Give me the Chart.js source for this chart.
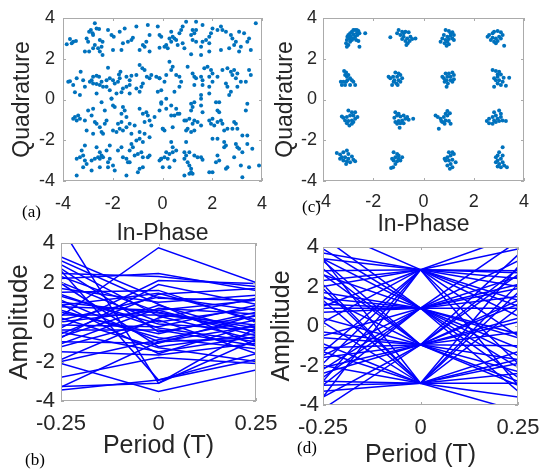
<!DOCTYPE html>
<html>
<head>
<meta charset="utf-8">
<script src="https://cdn.jsdelivr.net/npm/chart.js@4"></script>
<style>
  body { margin: 0; background: #fff; }
  #wrap { position: relative; width: 542px; height: 470px; background: #fff; overflow: hidden; }
  canvas { position: absolute; }
  .tag { position: absolute; font: 17px 'Liberation Serif', 'Times New Roman', serif; line-height: 18px; color: #000; }
</style>
</head>
<body>
<div id="wrap">
  <canvas id="pa" width="272" height="250" style="left:0;top:0"></canvas>
  <canvas id="pc" width="270" height="250" style="left:272px;top:0"></canvas>
  <canvas id="pb" width="290" height="240" style="left:0;top:230px"></canvas>
  <canvas id="pd" width="272" height="240" style="left:270px;top:230px"></canvas>
  <div class="tag" style="left:22px;top:203px">(a)</div>
  <div class="tag" style="left:302px;top:198px">(c)</div>
  <div class="tag" style="left:25px;top:451px">(b)</div>
  <div class="tag" style="left:297px;top:439px">(d)</div>
</div>
<script>
// tick values
const ticksIQ = [-4, -2, 0, 2, 4];
const ticksAmp = [-4, -2, 0, 2, 4];
const ticksPeriod = [-0.25, 0, 0.25];
const tickLabelsPeriod = ['-0.25', '0', '0.25'];

// (a) received constellation before equalisation, [in-phase, quadrature]
const pointsA = [
  [-2.72,3.74],[-2.65,3.49],[-2.55,3.46],[-2.88,3.41],[-2.95,3.33],[-2.19,3.41],[-2.05,3.17],[-1.96,3.08],
  [-1.72,3.33],[-1.52,3.49],[-1.05,3.58],[-0.59,3.66],[-0.19,3.58],[-0.52,3.17],[-0.05,3.08],[-0.65,2.84],
  [-0.79,2.68],[-0.72,2.59],[-1.25,2.92],[-1.39,2.84],[-1.19,3.03],[-1.59,2.76],[-1.65,2.43],[-1.99,2.43],
  [-2.52,2.92],[-2.41,2.84],[-2.45,2.59],[-2.59,2.51],[-2.72,2.68],[-2.79,2.51],[-3.05,3.0],[-2.99,2.84],
  [-3.12,2.35],[-2.95,2.35],[-3.72,2.97],[-3.59,2.84],[-3.48,2.87],[-3.85,2.71],[-3.65,2.76],[-2.52,2.35],
  [-2.41,2.18],[-0.92,2.43],[-0.52,2.35],[-0.12,2.54],[-2.79,3.17],[-2.81,3.25],
  [-2.19,1.56],[-3.29,1.36],[-3.45,1.04],[-3.72,0.9],[-3.79,0.87],[-3.59,0.71],[-3.19,0.95],[-3.12,0.63],
  [-3.52,0.35],[-3.32,0.22],[-2.85,0.95],[-2.79,1.12],[-2.65,1.17],[-2.55,1.12],[-2.92,0.87],[-2.79,0.79],
  [-2.65,0.76],[-2.52,0.71],[-2.45,0.87],[-2.25,0.95],[-2.12,1.04],[-1.99,0.95],[-1.92,0.79],[-1.79,0.87],
  [-1.72,1.04],[-1.69,1.36],[-1.75,1.23],[-1.45,1.12],[-1.32,0.95],[-1.25,1.17],[-1.05,1.2],[-0.92,1.69],
  [-0.81,1.53],[-0.72,1.45],[-0.63,1.12],[-0.52,1.04],[-0.45,1.2],[-0.25,1.12],[-0.12,1.04],[-0.79,0.79],
  [-0.85,0.63],[-1.05,0.54],[-1.32,0.71],[-1.45,0.63],[-1.59,0.54],[-2.25,0.63],[-2.12,0.46],[-2.05,0.05],
  [-1.85,0.3],[-1.65,0.35],[-1.32,0.3],[-0.92,0.38],[-0.19,0.38],[-2.65,0.3],[-2.39,0.63],
  [0.95,3.82],[1.35,3.82],[0.81,3.58],[0.75,3.41],[0.68,3.25],[0.35,3.33],[0.41,3.08],[0.28,3.0],
  [0.48,3.0],[0.55,2.92],[0.35,2.84],[0.15,2.68],[0.08,2.59],[0.21,2.51],[0.61,2.68],[0.81,2.76],
  [0.88,2.51],[1.21,3.41],[1.28,3.25],[1.35,3.41],[1.15,3.17],[1.21,2.92],[1.35,2.84],[1.61,3.66],
  [2.01,3.49],[1.95,3.25],[1.88,3.08],[1.75,2.92],[1.88,2.76],[2.21,3.41],[2.41,3.41],[2.35,3.58],
  [2.55,3.33],[2.75,3.17],[2.81,3.0],[2.95,2.84],[2.88,2.68],[3.08,3.33],[3.28,3.25],[3.48,3.0],
  [3.41,2.84],[3.15,2.59],[3.08,2.35],[3.55,2.43],[3.75,3.74],[1.88,2.35],[1.55,2.18],[1.15,2.22],
  [2.68,2.51],[2.35,2.43],[-0.12,3.17],[1.55,2.59],[1.61,2.84],
  [0.28,1.85],[0.41,1.61],[0.35,1.45],[0.15,1.2],[0.55,1.2],[0.68,1.12],[0.75,0.87],[0.08,0.87],
  [-0.12,1.04],[0.68,0.63],[0.48,0.38],[1.01,1.61],[1.21,1.28],[1.28,1.12],[1.35,1.04],[1.55,1.12],
  [1.61,0.95],[1.61,0.71],[1.28,0.71],[1.55,0.22],[1.68,1.53],[1.81,1.61],[1.95,1.45],[2.01,1.28],
  [1.88,1.12],[2.01,0.87],[2.21,1.12],[2.41,1.45],[2.61,1.53],[2.75,1.36],[2.88,1.45],[3.01,1.28],
  [2.81,1.2],[2.95,1.04],[3.15,0.87],[3.35,0.87],[3.55,1.2],[3.48,1.45],[2.55,0.79],[2.61,0.63],
  [2.75,0.38],[2.68,0.22],[3.01,0.63],[1.88,0.63],[1.88,0.3],[-0.05,0.46],
  [-2.05,0.04],[-1.99,-0.29],[-1.92,-0.37],[-2.45,-0.13],[-2.79,-0.45],[-2.99,-0.54],[-2.85,-0.78],[-3.39,-0.78],
  [-3.52,-0.86],[-3.45,-1.03],[-3.59,-0.95],[-3.32,-0.95],[-3.12,-1.03],[-3.05,-1.52],[-2.72,-1.11],[-2.65,-1.19],
  [-2.79,-1.68],[-2.52,-1.36],[-2.45,-1.6],[-2.39,-1.68],[-2.32,-0.54],[-1.59,-0.37],[-1.52,-0.54],[-1.65,-0.7],
  [-1.65,-1.11],[-1.79,-1.19],[-1.99,-1.52],[-1.85,-1.6],[-1.72,-1.44],[-1.59,-1.52],[-1.45,-1.36],[-1.32,-1.19],
  [-1.12,-1.27],[-0.92,-0.45],[-0.79,-0.7],[-0.65,-0.62],[-0.59,-0.78],[-0.72,-1.11],[-0.52,-1.03],[-0.45,-1.27],
  [-0.32,-0.86],[-0.12,-0.54],[-0.05,-0.21],[0.01,-1.44],[-1.45,-0.86],[-1.25,-1.68],[-0.92,-1.6],[-0.72,-1.68],
  [-2.32,-1.19],[-2.25,-1.03],
  [-3.12,-2.26],[-3.25,-2.5],[-3.19,-2.75],[-3.32,-2.83],[-3.45,-2.91],[-3.12,-2.99],[-3.05,-3.16],[-2.85,-2.99],
  [-2.72,-2.91],[-2.65,-2.34],[-2.52,-2.59],[-2.45,-2.75],[-2.39,-2.83],[-2.59,-2.83],[-2.52,-2.91],[-2.25,-2.5],
  [-2.12,-2.26],[-2.12,-2.91],[-2.19,-3.08],[-1.99,-3.24],[-1.92,-3.49],[-2.52,-3.32],[-2.85,-3.49],[-3.19,-3.32],
  [-3.45,-3.73],[-1.59,-2.83],[-1.45,-2.91],[-1.39,-3.08],[-1.32,-2.5],[-1.25,-2.18],[-1.19,-2.34],[-1.05,-2.01],
  [-0.92,-1.93],[-0.79,-2.09],[-0.52,-1.85],[-1.12,-2.75],[-0.99,-2.67],[-0.85,-2.59],[-0.79,-2.83],[-0.59,-2.83],
  [-0.52,-2.75],[-0.92,-3.4],[-0.99,-3.57],[-0.79,-3.32],[-1.45,-3.73],[-1.32,-3.08],[-0.12,-2.99],[-0.05,-2.91],
  [-1.79,-2.5],[-1.65,-2.34],[-2.19,-3.32],
  [-0.05,-0.13],[0.15,0.04],[0.15,-0.45],[0.35,-0.29],[0.55,-0.45],[0.61,-0.7],[0.48,-0.78],[0.68,-0.7],
  [0.35,-0.78],[1.15,-0.21],[1.28,-0.13],[1.21,-0.37],[1.15,-0.54],[1.55,-0.29],[1.61,-0.62],[0.88,-1.03],
  [0.95,-1.03],[1.08,-0.95],[1.21,-1.19],[1.28,-1.03],[1.41,-1.11],[1.55,-1.27],[1.01,-1.44],[0.95,-1.52],
  [1.15,-1.6],[1.28,-1.52],[0.41,-1.36],[0.01,-1.44],[0.08,-1.52],[2.15,-0.13],[2.28,-0.13],[2.28,-0.62],
  [2.21,-0.54],[2.01,-0.95],[1.88,-1.03],[1.95,-1.19],[2.08,-1.27],[2.21,-1.11],[2.35,-1.03],[2.41,-1.19],
  [2.48,-1.52],[2.61,-1.44],[2.88,-1.11],[2.95,-1.19],[2.81,-1.44],[3.01,-1.44],[3.35,-0.54],[3.41,-0.21],
  [3.21,-1.77],[3.41,-1.77],[1.55,0.04],
  [0.35,-2.09],[0.41,-2.34],[0.55,-2.5],[0.41,-2.59],[0.28,-2.67],[0.15,-2.59],[0.08,-2.83],[0.21,-2.91],
  [0.48,-2.99],[-0.05,-2.91],[0.95,-2.09],[0.88,-2.59],[0.95,-2.75],[1.08,-2.59],[0.88,-2.91],[1.01,-3.08],
  [1.28,-2.75],[1.41,-2.83],[1.55,-2.83],[1.61,-2.96],[1.08,-3.24],[1.15,-3.4],[1.15,-3.57],[1.08,-3.65],
  [0.88,-3.73],[1.21,-3.65],[0.01,-3.32],[0.28,-3.32],[2.01,-1.93],[2.21,-1.93],[2.48,-2.09],[2.55,-2.26],
  [2.48,-2.34],[2.21,-2.75],[2.28,-2.99],[2.15,-3.08],[2.01,-3.57],[1.88,-3.57],[2.55,-3.4],[2.61,-3.32],
  [2.95,-2.18],[3.01,-2.34],[3.08,-2.42],[3.21,-2.59],[3.41,-2.18],[3.61,-2.42],[2.88,-2.83],[3.15,-3.24],
  [3.21,-3.81],[3.48,-3.32],[3.88,-3.24]
];

// (c) constellation after equalisation, [in-phase, quadrature]
const pointsC = [
  [-3.05,2.59],[-3.08,2.76],[-3.05,2.92],[-3.03,3.08],[-2.99,3.17],[-2.92,3.25],[-2.85,3.33],[-2.79,3.41],
  [-2.72,3.41],[-2.65,3.41],[-2.59,3.36],[-2.55,3.25],[-2.63,3.17],[-2.72,3.08],[-2.79,3.0],[-2.85,2.92],
  [-2.92,2.84],[-2.95,3.0],[-2.89,3.08],[-2.68,2.92],[-2.59,2.87],[-2.55,2.59],[-2.32,3.25],[-2.99,2.68],
  [-2.79,3.2],[-2.65,3.25],
  [-0.99,3.41],[-0.85,3.33],[-0.72,3.33],[-0.59,3.3],[-0.92,3.17],[-0.79,3.08],[-0.65,3.0],[-0.52,3.08],
  [-0.45,2.97],[-0.32,3.0],[-0.85,2.97],[-0.72,2.87],[-0.63,2.76],[-0.68,2.68],[-1.32,3.05],[-1.05,3.25],
  [-0.55,2.87],[-0.79,3.25],
  [0.88,3.41],[1.01,3.36],[1.15,3.3],[1.21,3.17],[1.08,3.13],[0.95,3.08],[0.81,3.17],[0.75,3.0],
  [0.88,2.92],[1.01,2.97],[1.15,3.0],[0.95,2.84],[0.84,2.76],[1.01,2.71],[0.92,2.64],[0.68,2.84],
  [1.08,3.25],[1.21,2.92],
  [2.61,3.17],[2.75,3.25],[2.81,3.33],[2.95,3.36],[3.08,3.3],[3.15,3.17],[3.01,3.08],[2.88,3.0],
  [2.75,3.03],[2.68,2.92],[2.81,2.84],[2.95,2.87],[2.88,2.76],[3.21,2.64],[3.08,3.0],[2.55,3.08],
  [-3.16,1.4],[-3.08,1.33],[-3.12,1.2],[-3.05,1.12],[-2.99,1.2],[-2.92,1.04],[-2.85,0.95],[-2.79,0.87],
  [-2.72,0.71],[-2.92,0.71],[-3.12,0.71],[-3.19,0.87],[-3.25,0.71],[-3.29,0.87],[-3.03,0.95],[-3.08,0.87],
  [-1.12,1.33],[-0.99,1.28],[-0.92,1.2],[-1.05,1.12],[-1.21,1.12],[-1.39,1.12],[-1.32,1.04],[-1.16,0.95],
  [-0.99,0.95],[-0.85,1.04],[-0.92,0.87],[-1.08,0.79],[-1.25,0.71],[-1.19,0.87],[-1.03,0.71],
  [0.88,1.28],[1.01,1.28],[1.15,1.33],[1.21,1.2],[1.08,1.12],[0.95,1.12],[0.81,1.04],[0.75,1.12],
  [0.92,0.95],[1.08,0.95],[1.21,1.0],[0.97,0.79],[0.92,0.63],[0.84,0.87],[1.15,0.87],
  [2.75,1.45],[2.88,1.4],[3.01,1.36],[3.08,1.23],[2.95,1.12],[2.81,1.04],[2.88,0.95],[3.01,0.95],
  [3.15,0.87],[2.95,0.79],[3.08,0.71],[3.28,0.67],[3.41,1.07],[2.81,0.63],[2.95,1.23],[3.19,1.07],
  [-2.99,-0.54],[-2.85,-0.62],[-2.72,-0.62],[-2.79,-0.78],[-2.92,-0.78],[-3.05,-0.86],[-3.19,-0.9],[-3.25,-0.83],
  [-3.12,-1.03],[-2.99,-1.06],[-2.85,-1.03],[-2.72,-0.95],[-2.63,-0.86],[-2.85,-1.19],[-2.95,-1.27],[-3.05,-1.16],
  [-2.79,-1.11],
  [-1.12,-0.62],[-0.99,-0.7],[-1.05,-0.78],[-0.92,-0.83],[-0.79,-0.78],[-0.65,-0.86],[-0.72,-0.95],[-0.59,-0.99],
  [-0.85,-1.03],[-0.99,-1.06],[-1.12,-1.11],[-1.05,-1.19],[-0.92,-1.16],[-0.79,-1.16],[-0.41,-0.95],[-0.95,-1.39],
  [-1.16,-0.9],
  [0.48,-0.78],[0.57,-0.86],[0.68,-0.95],[0.81,-0.86],[0.88,-0.7],[0.95,-0.57],[1.05,-0.67],[0.95,-0.78],
  [0.88,-1.03],[1.01,-1.06],[0.75,-1.11],[0.84,-1.19],[1.08,-1.19],[0.61,-1.44],[0.71,-1.06],
  [3.01,-0.54],[3.08,-0.7],[2.81,-0.62],[2.88,-0.78],[2.75,-0.86],[2.61,-0.95],[2.52,-1.06],[2.61,-1.16],
  [2.75,-1.19],[2.88,-1.11],[3.01,-1.06],[3.15,-1.03],[3.28,-1.06],[3.08,-0.86],[2.95,-0.95],[2.81,-1.03],
  [-3.45,-2.63],[-3.32,-2.7],[-3.19,-2.59],[-3.05,-2.5],[-2.99,-2.67],[-3.12,-2.83],[-3.25,-2.83],[-3.19,-2.99],
  [-3.05,-3.03],[-2.92,-3.08],[-2.79,-2.96],[-2.72,-3.03],[-2.99,-2.91],[-2.85,-2.8],[-3.08,-3.16],[-3.32,-2.91],
  [-1.19,-2.59],[-1.05,-2.67],[-0.99,-2.75],[-0.85,-2.83],[-1.12,-2.83],[-1.25,-2.91],[-1.19,-2.99],[-1.05,-3.03],
  [-0.92,-2.99],[-1.12,-3.16],[-1.21,-3.32],[-1.29,-3.36],[-0.99,-2.91],
  [1.01,-2.59],[1.15,-2.59],[1.21,-2.67],[1.08,-2.75],[0.95,-2.83],[0.88,-2.99],[1.01,-2.99],[1.15,-2.96],
  [1.28,-3.08],[1.08,-3.16],[0.95,-3.24],[1.05,-3.4],[1.15,-3.32],[0.84,-2.91],
  [3.15,-2.34],[3.01,-2.59],[2.95,-2.75],[2.88,-2.83],[2.95,-2.99],[3.08,-2.91],[3.15,-3.08],[3.01,-3.16],
  [2.95,-3.29],[3.08,-3.32],[3.21,-3.24],[3.32,-3.32],[2.88,-3.08],[3.15,-2.75]
];

// (b) eye traces before equalisation, amplitude at t = -0.25, 0, 0.25
const eyeB = [
  [0.3,3.76,2.0],[4.8,-3.1,-0.9],[3.1,0.9,-1.2],[2.7,-0.5,0.3],[2.45,2.3,1.8],[2.2,2.45,1.6],
  [1.95,-1.25,-0.6],[1.7,1.0,1.35],[1.3,-0.1,-0.4],[0.85,1.45,0.1],[0.77,0.6,1.1],[0.6,-0.8,-1.35],
  [0.35,0.35,-0.15],[0.1,1.27,0.6],[-0.15,-0.24,0.85],[-0.3,2.1,1.95],[-0.5,-1.5,-0.75],[-0.75,0.85,-0.55],
  [-1.0,-1.08,0.35],[-1.25,0.1,-1.6],[-1.5,-1.67,-1.08],[-2.1,-3.52,-2.43],[-3.27,-3.1,-0.3],[-3.44,-2.94,-1.6],
  [2.9,0.3,-0.9],[2.6,-2.94,-1.9],[1.5,1.6,0.0],[0.5,-0.6,0.5],[-0.8,1.9,0.9],[1.1,-1.0,-0.2],
  [0.0,0.6,-0.7],[-1.9,0.2,1.2],[2.0,0.0,0.7],[-0.4,-0.4,-1.2],[1.0,0.45,-0.45],[-2.0,-0.9,0.1],
  [3.3,1.2,1.1],[0.2,-1.3,-2.0],[-1.1,0.7,0.4],[1.4,-0.3,-1.0],[-0.6,1.4,1.7],[2.3,0.5,-0.3],
  [-3.3,-1.0,-0.8],[0.9,-1.6,-0.1],[-2.8,-1.8,-2.1]
];

// (d) eye traces after equalisation
const eyeD = [
  [5.0,2.85,4.6],[2.8,2.85,2.8],[3.4,2.85,2.0],[2.0,2.85,1.0],[1.0,2.85,-0.5],[0.2,2.85,3.9],
  [-1.3,2.85,2.7],[3.9,0.9,-0.6],[3.4,0.9,1.5],[1.7,0.9,2.1],[0.9,0.9,0.9],[-0.5,0.9,1.9],
  [-2.2,0.9,3.3],[-3.0,0.9,-1.1],[1.1,0.9,-2.1],[2.6,-0.95,-2.8],[1.5,-0.95,0.4],[-0.6,-0.95,-1.0],
  [-1.1,-0.95,1.3],[-1.6,-0.95,-3.0],[-2.4,-0.95,2.6],[0.4,-0.95,-1.7],[3.3,-0.95,-0.3],[-3.6,-0.95,0.2],
  [-2.8,-2.9,-2.9],[-2.0,-2.9,-4.3],[-1.3,-2.9,-2.4],[0.2,-2.9,-1.3],[1.3,-2.9,0.9],[-3.0,-2.9,-1.7],
  [3.4,-2.9,-3.6],[-3.6,2.85,2.4],[2.1,-2.9,1.7],[-2.6,0.9,-0.4],[4.5,0.9,-2.6],[-4.2,-0.95,3.6],
  [2.9,-0.95,1.1],[-1.9,2.85,-1.9],[1.4,0.9,4.3],[-0.9,-2.9,2.1],[2.3,2.85,-3.0],[-2.1,-0.95,-2.3],
  [0.7,0.9,-3.3],[-3.3,-2.9,3.0],[3.7,2.85,1.3],[-0.3,-0.95,2.9],[1.9,-2.9,-1.9],[-1.5,0.9,-1.5],
  [2.6,0.9,2.5],[-2.8,2.85,0.5]
];

const FONT = "'Liberation Sans', Arial, sans-serif";
const TEXT = '#262626';

// MATLAB style box with small inward ticks
const boxPlugin = {
  id: 'box',
  afterDraw(chart) {
    const { ctx, chartArea: a, scales } = chart;
    ctx.save();
    ctx.strokeStyle = '#ababab';
    ctx.lineWidth = 1;
    ctx.strokeRect(Math.round(a.left) + 0.5, Math.round(a.top) + 0.5,
      Math.round(a.width) - 1, Math.round(a.height) - 1);
    ctx.beginPath();
    scales.x.ticks.forEach(t => {
      const p = Math.round(scales.x.getPixelForValue(t.value)) + 0.5;
      ctx.moveTo(p, a.bottom); ctx.lineTo(p, a.bottom - 3);
      ctx.moveTo(p, a.top); ctx.lineTo(p, a.top + 3);
    });
    scales.y.ticks.forEach(t => {
      const p = Math.round(scales.y.getPixelForValue(t.value)) + 0.5;
      ctx.moveTo(a.left, p); ctx.lineTo(a.left + 3, p);
      ctx.moveTo(a.right, p); ctx.lineTo(a.right - 3, p);
    });
    ctx.stroke();
    ctx.restore();
  }
};

function axis(o) {
  return {
    type: 'linear',
    min: o.min, max: o.max,
    grid: { display: false, drawTicks: false },
    border: { display: false },
    afterBuildTicks: s => { s.ticks = o.ticks.map(v => ({ value: v })); },
    afterFit: s => {
      if (o.x) s.height = o.size; else s.width = o.size;
      // keep the plot box where it is: no extra room for overhanging labels
      s.paddingLeft = s.paddingRight = s.paddingTop = s.paddingBottom = 0;
    },
    ticks: {
      color: TEXT, padding: o.tickPad, maxRotation: 0, autoSkip: false,
      font: { family: FONT, size: o.tickSize, lineHeight: 1 },
      callback: (v, i) => o.labels ? o.labels[i] : String(v)
    },
    title: {
      display: true, text: o.title, color: TEXT,
      font: { family: FONT, size: o.titleSize, lineHeight: 1 },
      padding: { top: o.titlePad, bottom: o.titlePad }
    }
  };
}

function panel(id, datasets, pad, xo, yo) {
  return new Chart(document.getElementById(id), {
    type: 'scatter',
    data: { datasets },
    options: {
      responsive: false, animation: false,
      layout: { padding: pad },
      plugins: { legend: { display: false }, tooltip: { enabled: false } },
      scales: { x: axis(Object.assign({ x: true }, xo)), y: axis(yo) }
    },
    plugins: [boxPlugin]
  });
}

function dots(pts) {
  return [{
    data: pts.map(([x, y]) => ({ x, y })),
    pointRadius: 2, pointBorderWidth: 0,
    pointBackgroundColor: '#0072bd', backgroundColor: '#0072bd'
  }];
}

function traces(rows) {
  return rows.map(r => ({
    data: ticksPeriod.map((t, i) => ({ x: t, y: r[i] })),
    showLine: true, pointRadius: 0, borderColor: '#0000ff', borderWidth: 1.5
  }));
}

panel('pa', dots(pointsA), { top: 18, right: 10, left: 0, bottom: 0 },
  { min: -4, max: 4, ticks: ticksIQ, size: 69, tickSize: 18, tickPad: 14, title: 'In-Phase', titleSize: 23, titlePad: 5 },
  { min: -4, max: 4, ticks: ticksIQ, size: 63, tickSize: 18, tickPad: 8, title: 'Quadrature', titleSize: 23, titlePad: 11.5 });

panel('pc', dots(pointsC), { top: 18, right: 18, left: 0, bottom: 0 },
  { min: -4, max: 4, ticks: ticksIQ, size: 69, tickSize: 18, tickPad: 12.5, title: 'In-Phase', titleSize: 23, titlePad: 14 },
  { min: -4, max: 4, ticks: ticksIQ, size: 51, tickSize: 18, tickPad: 6, title: 'Quadrature', titleSize: 23, titlePad: 2.5 });

panel('pb', traces(eyeB), { top: 13, right: 34, left: 0, bottom: 0 },
  { min: -0.25, max: 0.25, ticks: ticksPeriod, labels: tickLabelsPeriod, size: 69, tickSize: 22, tickPad: 11.5, title: 'Period (T)', titleSize: 25, titlePad: 11 },
  { min: -4, max: 4, ticks: ticksAmp, size: 61, tickSize: 22, tickPad: 6, title: 'Amplitude', titleSize: 26, titlePad: 6.5 });

panel('pd', traces(eyeD), { top: 17, right: 24, left: 0, bottom: 0 },
  { min: -0.25, max: 0.25, ticks: ticksPeriod, labels: tickLabelsPeriod, size: 65, tickSize: 22, tickPad: 12, title: 'Period (T)', titleSize: 25, titlePad: 2 },
  { min: -4, max: 4, ticks: ticksAmp, size: 53, tickSize: 22, tickPad: 4, title: 'Amplitude', titleSize: 25, titlePad: 0 });
</script>
</body>
</html>
